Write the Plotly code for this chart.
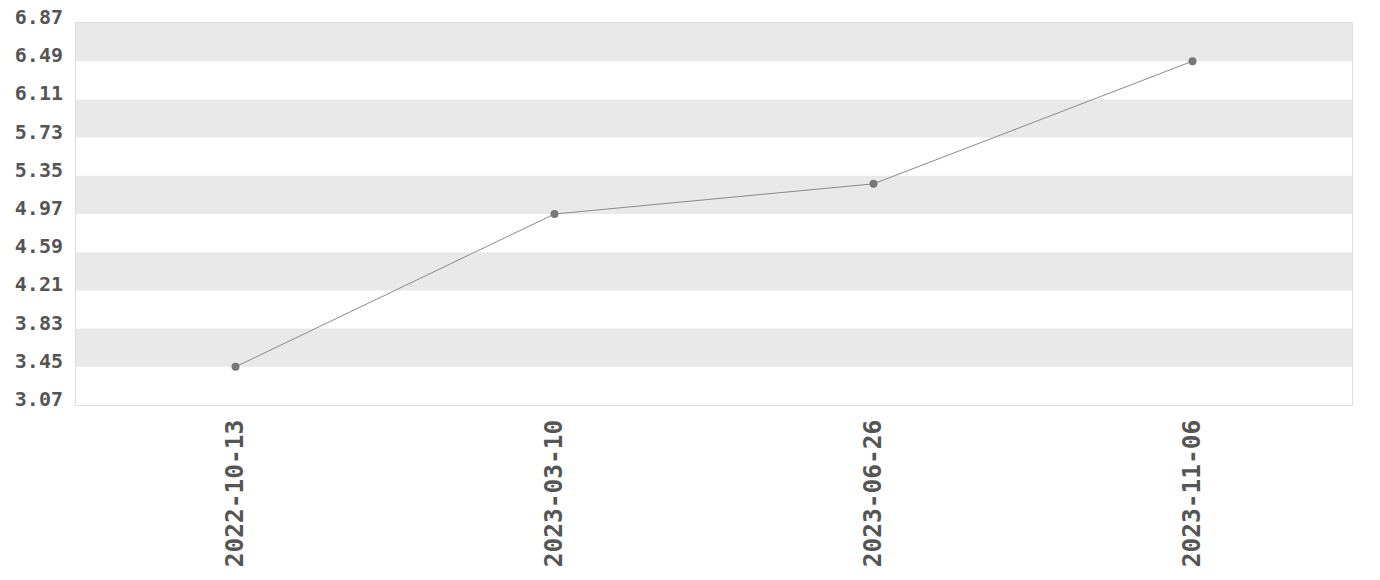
import plotly.graph_objects as go

dates = ["2022-10-13", "2023-03-10", "2023-06-26", "2023-11-06"]
values = [3.45, 4.97, 5.27, 6.49]
y_ticks = [3.07, 3.45, 3.83, 4.21, 4.59, 4.97, 5.35, 5.73, 6.11, 6.49, 6.87]

FONT = "DejaVu Sans Mono"

fig = go.Figure()
fig.add_trace(go.Scatter(
    x=dates, y=values, mode="lines+markers",
    line=dict(color="#8a8a8a", width=1),
    marker=dict(color="#777777", size=8),
    showlegend=False,
))

shapes = []
for i in range(len(y_ticks) - 1):
    # shade every other band, starting from the top
    if (len(y_ticks) - 2 - i) % 2 == 0:
        shapes.append(dict(type="rect", xref="paper", yref="y",
                           x0=0, x1=1, y0=y_ticks[i], y1=y_ticks[i + 1],
                           fillcolor="#e9e9e9", line=dict(width=0), layer="below"))

fig.update_layout(
    width=1380, height=580,
    margin=dict(l=76, r=28, t=23, b=175),
    paper_bgcolor="white", plot_bgcolor="white",
    shapes=shapes,
    font=dict(family=FONT, color="#555555"),
)
fig.update_xaxes(
    type="category", range=[-0.5, len(dates) - 0.5], automargin=False,
    tickangle=-90, tickfont=dict(family=FONT, size=24.5, color="#555555", weight="bold"),
    showgrid=False, showline=True, mirror=True, linecolor="#dddddd", linewidth=1,
    ticks="", ticklabelstandoff=4,
)
fig.update_yaxes(
    range=[y_ticks[0], y_ticks[-1]], tickvals=y_ticks, automargin=False,
    ticktext=[f"{v:.2f}" for v in y_ticks],
    tickfont=dict(family=FONT, size=20, color="#555555", weight="bold"),
    showgrid=False, zeroline=False, showline=True, mirror=True,
    linecolor="#dddddd", linewidth=1, ticks="", ticklabelstandoff=8,
    ticklabelshift=-6,
)
fig.write_html("out.html", post_script="document.body.style.margin='0';",
               config={"displayModeBar": False})
